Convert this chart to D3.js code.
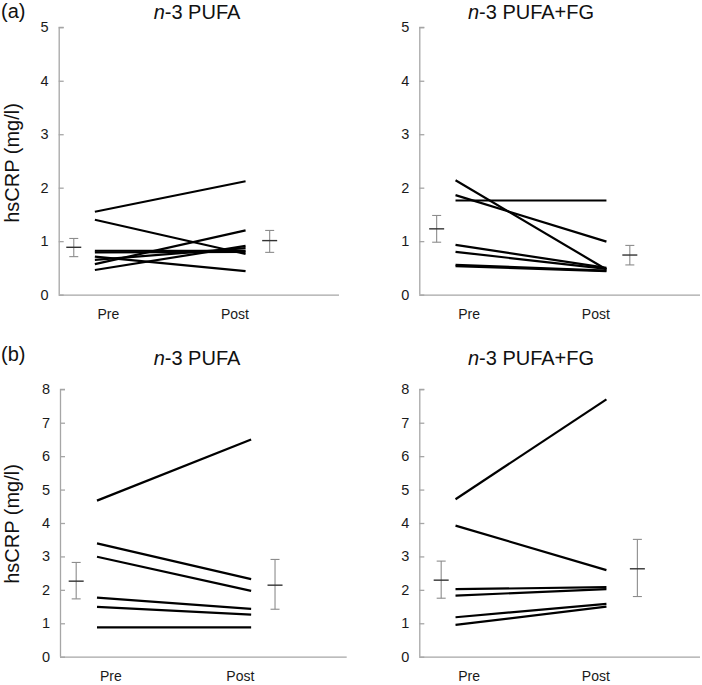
<!DOCTYPE html>
<html>
<head>
<meta charset="utf-8">
<script src="https://cdn.jsdelivr.net/npm/d3@7"></script>
<style>
  html, body { margin: 0; padding: 0; background: #fff; }
  svg { display: block; font-family: "Liberation Sans", Arial, Helvetica, sans-serif; }
</style>
</head>
<body>
<svg id="chart" width="702" height="685"></svg>
<script>
// ---------- DATA ----------
const categories = ["Pre", "Post"];
const panelLetters = ["(a)", "(b)"];
const titleTexts = ["PUFA", "PUFA+FG"];
const yLabel = "hsCRP (mg/l)";
const yTicksA = [0, 1, 2, 3, 4, 5];
const yTicksB = [0, 1, 2, 3, 4, 5, 6, 7, 8];

// (a) n-3 PUFA: individual subjects, pre and post
const aPufaPre  = [1.55, 1.40, 0.82, 0.79, 0.71, 0.65, 0.57, 0.46];
const aPufaPost = [2.12, 0.76, 0.82, 0.80, 0.44, 0.87, 1.20, 0.91];
// (a) n-3 PUFA+FG
const aFgPre  = [2.14, 1.86, 1.76, 0.93, 0.80, 0.555, 0.53];
const aFgPost = [0.47, 0.99, 1.76, 0.50, 0.48, 0.45, 0.44];
// (b) n-3 PUFA
const bPufaPre  = [4.67, 3.39, 2.99, 1.77, 1.49, 0.88];
const bPufaPost = [6.50, 2.32, 1.97, 1.43, 1.26, 0.88];
// (b) n-3 PUFA+FG
const bFgPre  = [4.71, 3.92, 2.02, 1.83, 1.18, 0.95];
const bFgPost = [7.70, 2.59, 2.08, 2.02, 1.58, 1.50];

// group summaries: [mean, lower, upper] for Pre and Post
const aPufaSummary = [[0.885, 0.71, 1.05], [1.01, 0.79, 1.20]];
const aFgSummary   = [[1.23, 0.98, 1.48], [0.74, 0.555, 0.92]];
const bPufaSummary = [[2.26, 1.73, 2.82], [2.14, 1.42, 2.91]];
const bFgSummary   = [[2.29, 1.75, 2.86], [2.63, 1.80, 3.51]];

// ---------- LAYOUT ----------
const panels = [
  { pre: aPufaPre, post: aPufaPost, summary: aPufaSummary, title: 0, ticks: yTicksA, ymax: 5,
    ax: 58.7, ae: 339, yTop: 27.3, y0: 294.6, titleX: 197, titleY: 18.5, letter: 0, ylab: true, ylabY: 163, errPos: [-0.14, 1.16] },
  { pre: aFgPre, post: aFgPost, summary: aFgSummary, title: 1, ticks: yTicksA, ymax: 5,
    ax: 419.3, ae: 700, yTop: 27.3, y0: 294.6, titleX: 531, titleY: 18.5, letter: null, ylab: false, errPos: [-0.125, 1.155] },
  { pre: bPufaPre, post: bPufaPost, summary: bPufaSummary, title: 0, ticks: yTicksB, ymax: 8,
    ax: 60, ae: 346.7, yTop: 389.3, y0: 656.7, titleX: 197, titleY: 365, letter: 1, ylab: true, ylabY: 524, errPos: [-0.135, 1.155] },
  { pre: bFgPre, post: bFgPost, summary: bFgSummary, title: 1, ticks: yTicksB, ymax: 8,
    ax: 419.3, ae: 700, yTop: 389.3, y0: 656.7, titleX: 531, titleY: 365, letter: null, ylab: false, errPos: [-0.095, 1.205] }
];
const catPos = [0, 1];          // line endpoints in x-domain units
const labelPos = [0.09, 0.93];  // category label positions

const svg = d3.select("#chart");
const axisColor = "#a6a6a6";

panels.forEach(p => {
  const g = svg.append("g");
  const x = d3.scaleLinear().domain([-0.24, 1.62]).range([p.ax, p.ae]);
  const y = d3.scaleLinear().domain([0, p.ymax]).range([p.y0, p.yTop]);

  // y axis (ticks pointing inward)
  const yAxis = d3.axisRight(y).tickValues(p.ticks).tickSize(5).tickFormat("");
  const ya = g.append("g").attr("transform", `translate(${p.ax},0)`).call(yAxis);
  ya.select(".domain").attr("stroke", axisColor).attr("stroke-width", 1.3).attr("d", `M0.5,${p.y0}V${p.yTop}H5`);
  ya.selectAll(".tick line").attr("stroke", axisColor).attr("stroke-width", 1.3);
  // tick labels
  g.selectAll("text.ytick").data(p.ticks).join("text")
    .attr("class", "ytick")
    .attr("x", p.ax - 10).attr("y", d => y(d) + 5)
    .attr("text-anchor", "end").attr("font-size", 14.5).attr("fill", "#1a1a1a")
    .text(d => d);

  // x axis baseline
  g.append("line").attr("x1", p.ax).attr("x2", p.ae).attr("y1", p.y0 + 0.5).attr("y2", p.y0 + 0.5)
    .attr("stroke", axisColor).attr("stroke-width", 1.3);

  // category labels
  g.selectAll("text.cat").data(categories).join("text")
    .attr("class", "cat")
    .attr("x", (d, i) => x(labelPos[i])).attr("y", p.y0 + 24)
    .attr("text-anchor", "middle").attr("font-size", 14).attr("fill", "#1a1a1a")
    .text(d => d);

  // subject lines
  const pairs = p.pre.map((v, i) => [v, p.post[i]]);
  g.selectAll("line.subj").data(pairs).join("line")
    .attr("class", "subj")
    .attr("x1", x(catPos[0])).attr("x2", x(catPos[1]))
    .attr("y1", d => y(d[0])).attr("y2", d => y(d[1]))
    .attr("stroke", "#000").attr("stroke-width", 2.2).attr("stroke-linecap", "butt");

  // error bars
  p.summary.forEach((s, i) => {
    const cx = x(p.errPos[i]);
    const eb = g.append("g");
    eb.append("line").attr("x1", cx).attr("x2", cx).attr("y1", y(s[1])).attr("y2", y(s[2]))
      .attr("stroke", "#8c8c8c").attr("stroke-width", 1.1);
    [s[1], s[2]].forEach(v => {
      eb.append("line").attr("x1", cx - 4.5).attr("x2", cx + 4.5).attr("y1", y(v)).attr("y2", y(v))
        .attr("stroke", "#8c8c8c").attr("stroke-width", 1.1);
    });
    eb.append("line").attr("x1", cx - 7.5).attr("x2", cx + 7.5).attr("y1", y(s[0])).attr("y2", y(s[0]))
      .attr("stroke", "#333").attr("stroke-width", 1.4);
  });

  // title
  const t = g.append("text").attr("x", p.titleX).attr("y", p.titleY)
    .attr("text-anchor", "middle").attr("font-size", 20).attr("fill", "#111");
  t.append("tspan").attr("font-style", "italic").text("n");
  t.append("tspan").text("-3 " + titleTexts[p.title]);

  // panel letter
  if (p.letter !== null) {
    g.append("text").attr("x", 1).attr("y", p.titleY - (p.letter === 0 ? 0.5 : 4))
      .attr("font-size", 20).attr("fill", "#111").text(panelLetters[p.letter]);
  }

  // y label
  if (p.ylab) {
    g.append("text").attr("transform", `translate(19,${p.ylabY}) rotate(-90)`)
      .attr("text-anchor", "middle").attr("font-size", 20).attr("fill", "#111")
      .text(yLabel);
  }
});
</script>
</body>
</html>
